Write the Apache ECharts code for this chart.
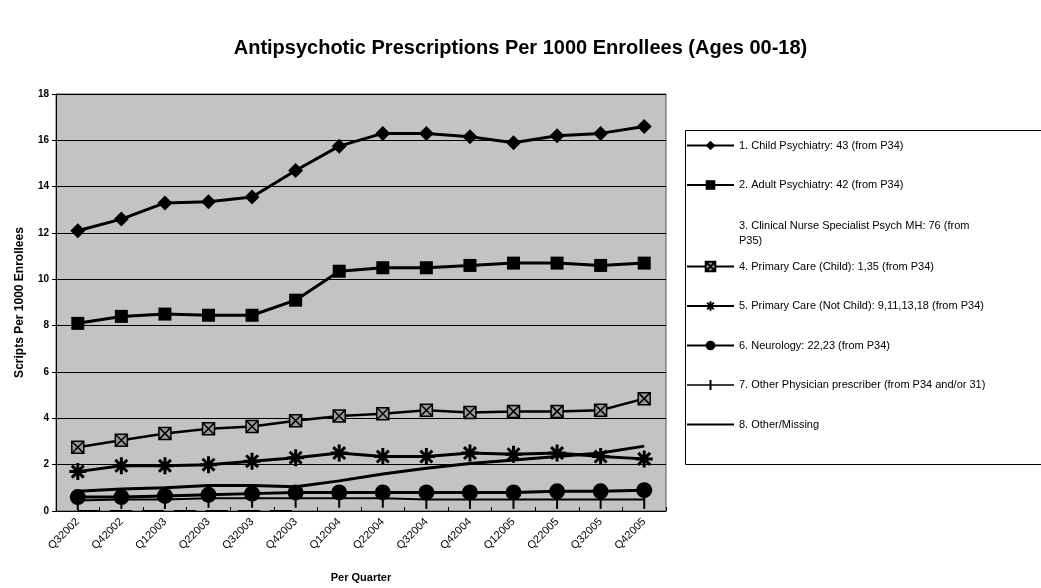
<!DOCTYPE html>
<html>
<head>
<meta charset="utf-8">
<script src="https://cdn.jsdelivr.net/npm/echarts@6/dist/echarts.min.js"></script>
<style>
  html, body { margin: 0; padding: 0; background: #fff; }
  #chart { width: 1041px; height: 588px; }
</style>
</head>
<body>
<div id="chart"></div>
<script>
// quarters on the x axis
const quarters = ['Q32002', 'Q42002', 'Q12003', 'Q22003', 'Q32003', 'Q42003', 'Q12004',
  'Q22004', 'Q32004', 'Q42004', 'Q12005', 'Q22005', 'Q32005', 'Q42005']

// series values (scripts per 1000 enrollees)
const childPsych = [12.1, 12.6, 13.3, 13.35, 13.55, 14.7, 15.75, 16.3, 16.3, 16.15, 15.9, 16.2, 16.3, 16.6]
const adultPsych = [8.1, 8.4, 8.5, 8.45, 8.45, 9.1, 10.35, 10.5, 10.5, 10.6, 10.7, 10.7, 10.6, 10.7]
const nurseSpec = [0, 0, 0, 0, 0, 0, null, null, null, null, null, null, null, null]
const primaryChild = [2.75, 3.05, 3.35, 3.55, 3.65, 3.9, 4.1, 4.2, 4.35, 4.25, 4.3, 4.3, 4.35, 4.85]
const primaryNotChild = [1.7, 1.95, 1.95, 2.0, 2.15, 2.3, 2.5, 2.35, 2.35, 2.5, 2.45, 2.5, 2.35, 2.25]
const neurology = [0.6, 0.6, 0.65, 0.7, 0.75, 0.8, 0.8, 0.8, 0.8, 0.8, 0.8, 0.85, 0.85, 0.9]
const otherPhys = [0.45, 0.5, 0.5, 0.55, 0.55, 0.55, 0.55, 0.55, 0.5, 0.5, 0.5, 0.5, 0.5, 0.5]
const otherMissing = [0.85, 0.95, 1.0, 1.1, 1.1, 1.05, 1.3, 1.6, 1.85, 2.05, 2.2, 2.35, 2.5, 2.8]

const names = [
  '1. Child Psychiatry: 43 (from P34)',
  '2. Adult Psychiatry: 42 (from P34)',
  '3. Clinical Nurse Specialist Psych MH: 76 (from\nP35)',
  '4. Primary Care (Child): 1,35 (from P34)',
  '5. Primary Care (Not Child): 9,11,13,18 (from P34)',
  '6. Neurology: 22,23 (from P34)',
  '7. Other Physician prescriber (from P34 and/or 31)',
  '8. Other/Missing'
]

const yTicks = [0, 2, 4, 6, 8, 10, 12, 14, 16, 18]

const asterisk = 'path://M5,0 L5,10 M0,5 L10,5 M1.5,1.5 L8.5,8.5 M8.5,1.5 L1.5,8.5'
const boxX = 'path://M0,0 L10,0 L10,10 L0,10 Z M0,0 L10,10 M10,0 L0,10'
// legend icons for the two series whose own symbol does not suit the legend
const tickIcon = 'path://M0,5.2 L47,5.2 L47,6.8 L0,6.8 Z M22.5,1 L24.5,1 L24.5,11 L22.5,11 Z M0,0 L0.01,0 M0,12 L0.01,12'
const lineIcon = 'path://M0,5 L47,5 L47,7 L0,7 Z M0,0 L0.01,0 M0,12 L0.01,12'

const myChart = echarts.init(document.getElementById('chart'))

const legendBase = {
  orient: 'vertical',
  left: 681,
  itemWidth: 47,
  itemHeight: 12,
  itemGap: 24.5,
  textStyle: { fontFamily: 'Liberation Sans', fontSize: 11, color: '#000', lineHeight: 15 },
  selectedMode: false
}

function line(name, data, opts) {
  return Object.assign({
    name: name,
    type: 'line',
    data: data,
    color: '#000',
    lineStyle: { color: '#000', width: 3 },
    itemStyle: { color: '#000' },
    symbolSize: 13,
    showAllSymbol: true,
    animation: false,
    clip: false
  }, opts)
}

const option = {
  backgroundColor: '#fff',
  title: {
    text: 'Antipsychotic Prescriptions Per 1000 Enrollees (Ages 00-18)',
    left: 'center',
    top: 33,
    textStyle: { fontFamily: 'Liberation Sans', fontWeight: 'bold', fontSize: 20, color: '#000' }
  },
  legend: [
    Object.assign({}, legendBase, { top: 133, data: [names[0], names[1]] }),
    Object.assign({}, legendBase, {
      top: 213,
      data: [{ name: names[2], itemStyle: { opacity: 0 }, lineStyle: { opacity: 0 } }]
    }),
    Object.assign({}, legendBase, {
      top: 254,
      data: [names[3], names[4], names[5],
        { name: names[6], icon: tickIcon },
        { name: names[7], icon: lineIcon }]
    })
  ],
  graphic: [{
    type: 'rect',
    left: 683,
    top: 128,
    shape: { width: 400, height: 334 },
    style: { fill: 'none', stroke: '#000', lineWidth: 1 },
    z: 0
  }],
  grid: {
    left: 56,
    right: 375,
    top: 94,
    bottom: 76,
    show: true,
    backgroundColor: '#c3c3c3',
    borderColor: '#555',
    borderWidth: 1
  },
  xAxis: {
    type: 'category',
    data: quarters,
    boundaryGap: true,
    name: 'Per Quarter',
    nameLocation: 'middle',
    nameGap: 61,
    nameTextStyle: { fontFamily: 'Liberation Sans', fontWeight: 'bold', fontSize: 11, color: '#000' },
    axisLine: { lineStyle: { color: '#000', width: 1 } },
    axisTick: { show: true, lineStyle: { color: '#000' }, length: 4, inside: true },
    axisLabel: {
      rotate: 45,
      interval: 0,
      fontFamily: 'Liberation Sans',
      fontSize: 11,
      color: '#000',
      margin: 9
    },
    splitLine: { show: false }
  },
  yAxis: {
    type: 'value',
    min: 0,
    max: 18,
    interval: 2,
    name: 'Scripts Per 1000 Enrollees',
    nameLocation: 'middle',
    nameGap: 30,
    nameTextStyle: { fontFamily: 'Liberation Sans', fontWeight: 'bold', fontSize: 12, color: '#000' },
    axisLine: { show: true, lineStyle: { color: '#000', width: 1 } },
    axisTick: { show: true, lineStyle: { color: '#000' }, length: 4 },
    axisLabel: {
      fontFamily: 'Liberation Sans',
      fontWeight: 'bold',
      fontSize: 10,
      color: '#000',
      margin: 7,
      formatter: v => (yTicks.indexOf(v) >= 0 ? String(v) : '')
    },
    splitLine: { show: true, lineStyle: { color: '#000', width: 1 } }
  },
  series: [
    line(names[0], childPsych, { symbol: 'diamond', symbolSize: 15 }),
    line(names[1], adultPsych, { symbol: 'rect', symbolSize: 13 }),
    line(names[2], nurseSpec, {
      symbol: 'none',
      lineStyle: { color: '#000', width: 2, type: [22, 10] }
    }),
    line(names[3], primaryChild, {
      symbol: boxX,
      symbolSize: 12,
      lineStyle: { color: '#000', width: 2.5 },
      itemStyle: { color: '#9a9a9a', borderColor: '#000', borderWidth: 1.5 }
    }),
    line(names[4], primaryNotChild, {
      symbol: asterisk,
      symbolSize: 17,
      itemStyle: { color: '#000', borderColor: '#000', borderWidth: 3 }
    }),
    line(names[5], neurology, { symbol: 'circle', symbolSize: 16 }),
    line(names[6], otherPhys, {
      symbol: 'rect',
      symbolSize: [2, 13],
      symbolOffset: [0, 3],
      lineStyle: { color: '#000', width: 2 }
    }),
    line(names[7], otherMissing, { symbol: 'none', lineStyle: { color: '#000', width: 3 } })
  ]
}

myChart.setOption(option)
window.onresize = () => {
  myChart.resize()
}
</script>
</body>
</html>
